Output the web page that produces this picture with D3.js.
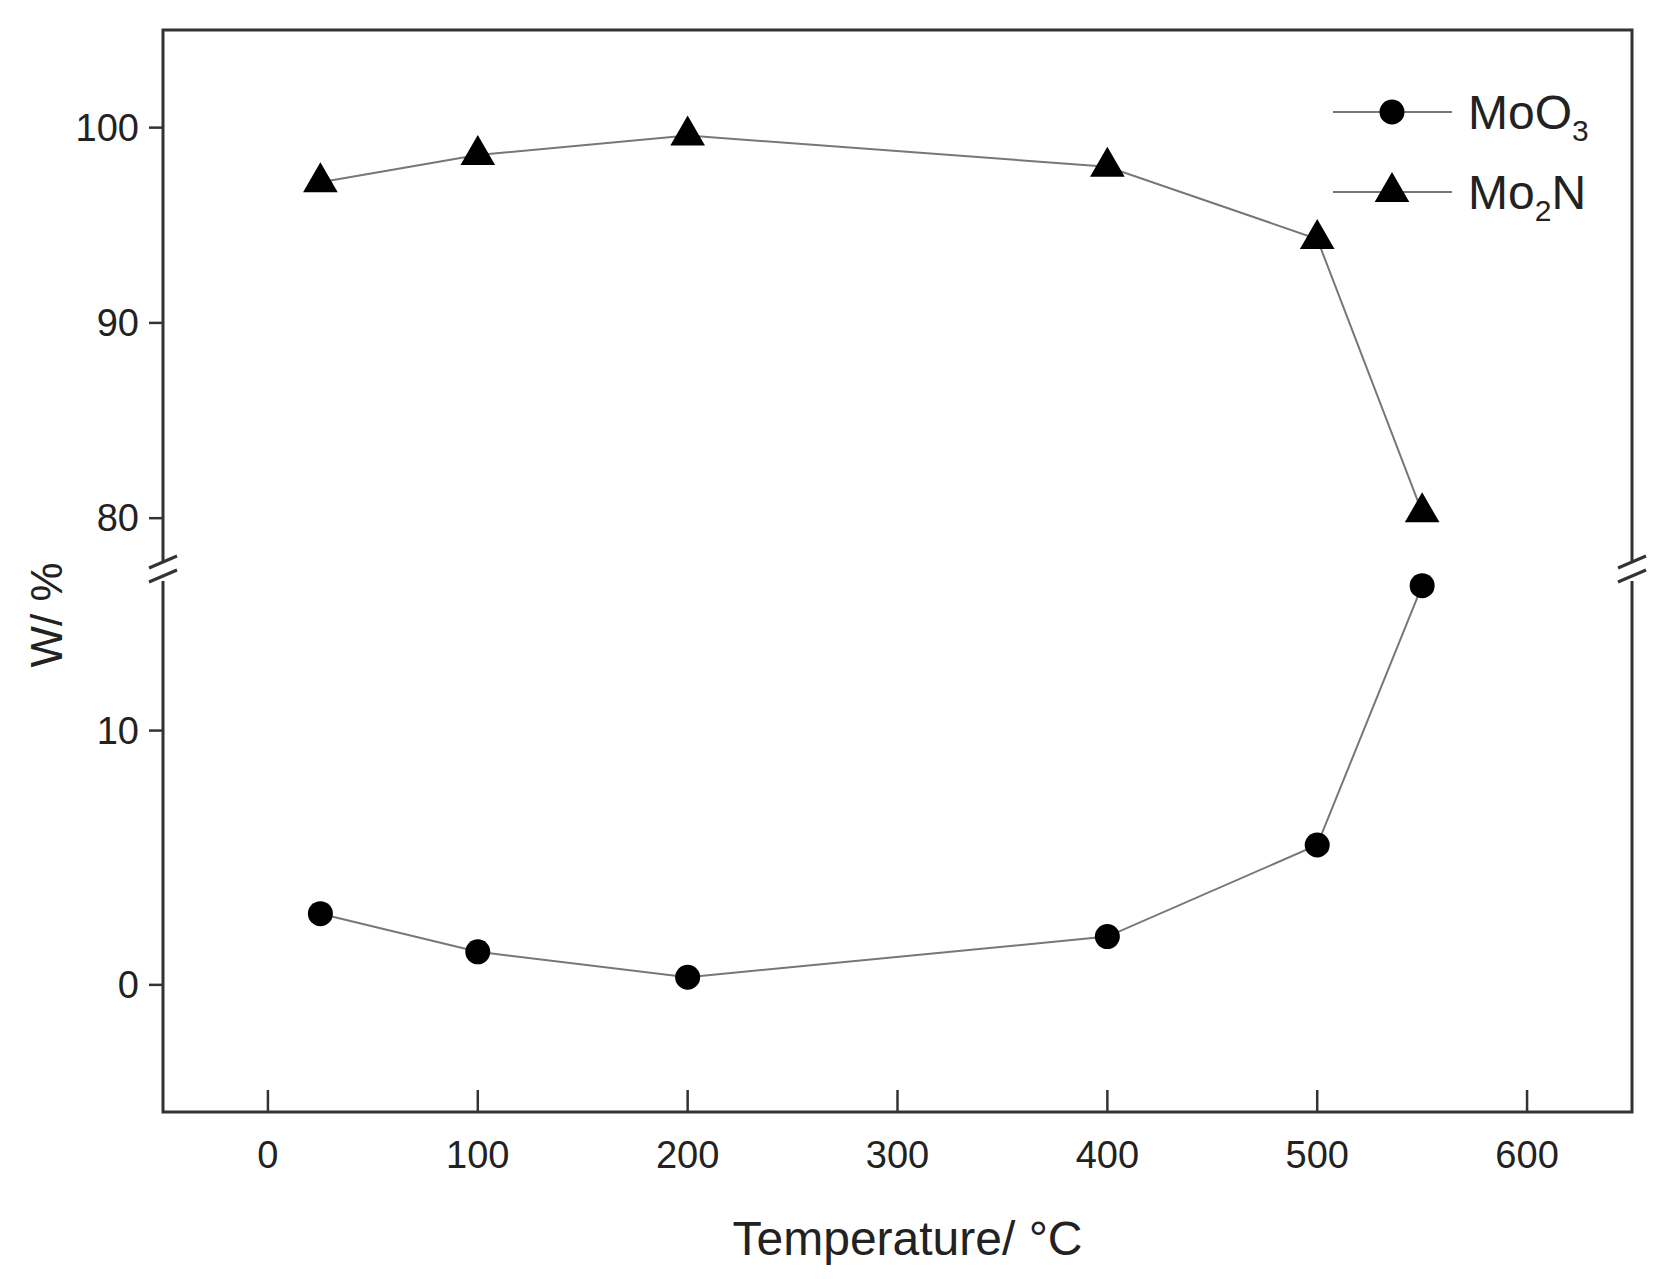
<!DOCTYPE html>
<html><head><meta charset="utf-8">
<script src="https://cdn.jsdelivr.net/npm/d3@7"></script>
<style>body{margin:0;background:#fff}</style></head>
<body><svg id="c" width="1671" height="1279"></svg>
<script>
// data
const temps = [25, 100, 200, 400, 500, 550];
const moo3 = [2.8, 1.3, 0.3, 1.9, 5.5, 15.7];
const mo2n = [97.2, 98.6, 99.6, 98.0, 94.3, 80.3];
const xTicks = [0, 100, 200, 300, 400, 500, 600];
const yTicksTop = [80, 90, 100];
const yTicksBot = [0, 10];

const L = 163, R = 1632, T = 30, B = 1112;
const svg = d3.select('#c');
const font = 'Arial, "Liberation Sans", sans-serif';

const x = d3.scaleLinear().domain([-50, 650]).range([L, R]);
const yTop = d3.scaleLinear().domain([77.5, 105]).range([567, T]);
const yBot = d3.scaleLinear().domain([-5, 16]).range([B, 578]);

// frame
svg.append('rect').attr('x', L).attr('y', T).attr('width', R - L).attr('height', B - T)
  .attr('fill', 'none').attr('stroke', '#333').attr('stroke-width', 3);

// axis break: white gap + slashes
[L, R].forEach(px => {
  svg.append('rect').attr('x', px - 4).attr('y', 563).attr('width', 8).attr('height', 18).attr('fill', '#fff');
  [562, 576].forEach(yy => svg.append('line').attr('x1', px - 14).attr('x2', px + 14)
    .attr('y1', yy + 6).attr('y2', yy - 6).attr('stroke', '#333').attr('stroke-width', 3));
});

// ticks
const tickTxt = (sel) => sel.attr('font-family', font).attr('font-size', 38).attr('fill', '#222');
xTicks.forEach(v => {
  svg.append('line').attr('x1', x(v)).attr('x2', x(v)).attr('y1', B).attr('y2', B - 22).attr('stroke', '#333').attr('stroke-width', 2.5);
  tickTxt(svg.append('text').attr('x', x(v)).attr('y', B + 56).attr('text-anchor', 'middle').text(v));
});
[[yTop, yTicksTop], [yBot, yTicksBot]].forEach(([s, ts]) => ts.forEach(v => {
  svg.append('line').attr('x1', L).attr('x2', L - 14).attr('y1', s(v)).attr('y2', s(v)).attr('stroke', '#333').attr('stroke-width', 2.5);
  tickTxt(svg.append('text').attr('x', L - 24).attr('y', s(v) + 13).attr('text-anchor', 'end').text(v));
}));

// axis titles
svg.append('text').attr('x', (L + R) / 2 + 10).attr('y', 1255).attr('text-anchor', 'middle')
  .attr('font-family', font).attr('font-size', 48).attr('fill', '#222').text('Temperature/ \u00B0C');
svg.append('text').attr('transform', 'translate(62,615) rotate(-90)').attr('text-anchor', 'middle')
  .attr('font-family', font).attr('font-size', 44).attr('fill', '#222').text('W/ %');

// series
const tri = d3.symbol().type(d3.symbolTriangle).size(520);
function series(vals, s, shape) {
  const pts = temps.map((t, i) => [x(t), s(vals[i])]);
  svg.append('path').attr('d', d3.line()(pts)).attr('fill', 'none').attr('stroke', '#777').attr('stroke-width', 2);
  pts.forEach(p => {
    if (shape === 'circle') svg.append('circle').attr('cx', p[0]).attr('cy', p[1]).attr('r', 12.5).attr('fill', '#000');
    else svg.append('path').attr('d', tri).attr('transform', `translate(${p[0]},${p[1]})`).attr('fill', '#000');
  });
}
series(moo3, yBot, 'circle');
series(mo2n, yTop, 'tri');

// legend
const lg = [['MoO', '3', 'circle', 112], ['Mo', '2', 'tri', 192]];
lg.forEach(([a, sub, shape, yy]) => {
  svg.append('line').attr('x1', 1333).attr('x2', 1452).attr('y1', yy).attr('y2', yy).attr('stroke', '#777').attr('stroke-width', 2);
  if (shape === 'circle') svg.append('circle').attr('cx', 1392).attr('cy', yy).attr('r', 12.5).attr('fill', '#000');
  else svg.append('path').attr('d', tri).attr('transform', `translate(1392,${yy})`).attr('fill', '#000');
  const t = svg.append('text').attr('x', 1468).attr('y', yy + 17).attr('font-family', font).attr('font-size', 48).attr('fill', '#222');
  t.append('tspan').text(a);
  t.append('tspan').attr('font-size', 30).attr('dy', 12).text(sub);
  if (shape !== 'circle') t.append('tspan').attr('dy', -12).text('N');
});
</script></body></html>
